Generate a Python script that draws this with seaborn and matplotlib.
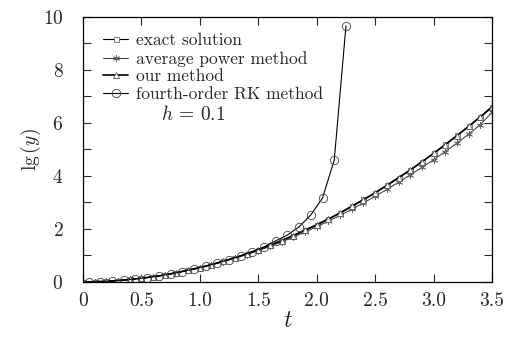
import matplotlib
matplotlib.use("Agg")
import matplotlib.pyplot as plt
import pandas as pd
import seaborn as sns
from matplotlib.ticker import MultipleLocator

T_GRID = [0.0, 0.1, 0.2, 0.3, 0.4, 0.5, 0.6, 0.7, 0.8, 0.9, 1.0, 1.1, 1.2, 1.3, 1.4, 1.5, 1.6, 1.7,
          1.8, 1.9, 2.0, 2.1, 2.2, 2.3, 2.4, 2.5, 2.6, 2.7, 2.8, 2.9, 3.0, 3.1, 3.2, 3.3, 3.4, 3.5]
EXACT = [0.0, 0.005, 0.02, 0.05, 0.09, 0.14, 0.19, 0.26, 0.35, 0.44, 0.54, 0.65, 0.78, 0.91, 1.06, 1.22,
         1.38, 1.56, 1.75, 1.95, 2.16, 2.38, 2.61, 2.86, 3.11, 3.37, 3.65, 3.94, 4.23, 4.54, 4.86, 5.19,
         5.53, 5.88, 6.24, 6.62]
AVG_POWER = [0.0, 0.005, 0.02, 0.05, 0.09, 0.14, 0.19, 0.26, 0.34, 0.43, 0.53, 0.64, 0.76, 0.89, 1.03, 1.18,
             1.34, 1.51, 1.69, 1.88, 2.08, 2.29, 2.51, 2.74, 2.98, 3.23, 3.49, 3.76, 4.04, 4.32, 4.61, 4.92,
             5.24, 5.58, 5.94, 6.40]
OUR_METHOD = [0.0, 0.005, 0.02, 0.05, 0.09, 0.14, 0.19, 0.26, 0.35, 0.44, 0.54, 0.65, 0.78, 0.91, 1.06, 1.21,
              1.38, 1.56, 1.75, 1.95, 2.15, 2.37, 2.60, 2.85, 3.10, 3.36, 3.64, 3.93, 4.22, 4.53, 4.85, 5.18,
              5.52, 5.87, 6.23, 6.60]

T_RK = [0.05, 0.15, 0.25, 0.35, 0.45, 0.55, 0.65, 0.75, 0.85, 0.95, 1.05, 1.15, 1.25, 1.35, 1.45, 1.55,
        1.65, 1.75, 1.85, 1.95, 2.05, 2.15, 2.25]
RK4 = [0.0, 0.012, 0.035, 0.07, 0.11, 0.16, 0.23, 0.30, 0.39, 0.49, 0.60, 0.71, 0.84, 0.98, 1.14, 1.32,
       1.55, 1.77, 2.08, 2.53, 3.17, 4.6, 9.66]

X_TICKS = [0, 0.5, 1.0, 1.5, 2.0, 2.5, 3.0, 3.5]
X_TICK_LABELS = ["0", "0.5", "1.0", "1.5", "2.0", "2.5", "3.0", "3.5"]
LABELS = ["exact solution", "average power method", "our method", "fourth-order RK method"]

sns.set_style("ticks")
plt.rcParams["font.family"] = ["cmr10", "DejaVu Serif"]
plt.rcParams["mathtext.fontset"] = "cm"
plt.rcParams["axes.formatter.use_mathtext"] = True
plt.rcParams["axes.unicode_minus"] = False

fig = plt.figure(figsize=(5.18, 3.40), dpi=100)
ax = fig.add_axes([0.160, 0.171, 0.790, 0.779])

grid_df = pd.DataFrame({"t": T_GRID, "exact": EXACT, "avg": AVG_POWER, "our": OUR_METHOD})
rk_df = pd.DataFrame({"t": T_RK, "rk": RK4})

sns.lineplot(data=grid_df, x="t", y="exact", ax=ax, color="black", lw=0.8, marker="s", ms=3.6,
             mfc="white", mec="#666666", mew=0.6, label=LABELS[0])
sns.lineplot(data=grid_df, x="t", y="avg", ax=ax, color="#333333", lw=0.7, marker=(6, 2, 0), ms=5,
             mec="#666666", mew=0.6, label=LABELS[1])
sns.lineplot(data=grid_df, x="t", y="our", ax=ax, color="black", lw=1.2, marker="^", ms=4.5,
             mfc="white", mec="#555555", mew=0.6, label=LABELS[2])
sns.lineplot(data=rk_df, x="t", y="rk", ax=ax, color="black", lw=0.8, marker="o", ms=6,
             mfc="none", mec="#444444", mew=0.6, label=LABELS[3])

ax.set_xlim(0, 3.5)
ax.set_ylim(0, 10)
ax.yaxis.set_major_locator(MultipleLocator(2))
ax.yaxis.set_minor_locator(MultipleLocator(1))
ax.set_xticks(X_TICKS)
ax.set_xticklabels(X_TICK_LABELS)
ax.tick_params(which="both", direction="in", top=True, right=True, length=6, width=0.8,
               labelsize=14)
ax.tick_params(axis="y", pad=14)
ax.tick_params(axis="x", pad=7)
for spine in ax.spines.values():
    spine.set_linewidth(0.9)
    spine.set_color("black")

ax.set_xlabel(r"$t$", fontsize=17, labelpad=0)
ax.set_ylabel(r"$\mathrm{lg}\,(y)$", fontsize=14, labelpad=0)

ax.text(0.19, 0.63, r"$h$ = 0.1", transform=ax.transAxes, fontsize=14, va="center")

ax.legend(loc="upper left", bbox_to_anchor=(0.02, 0.985), frameon=False, fontsize=12.5,
          handlelength=1.45, handletextpad=0.45, labelspacing=0.14, borderaxespad=0.3)

fig.savefig("out.png", dpi=100)
